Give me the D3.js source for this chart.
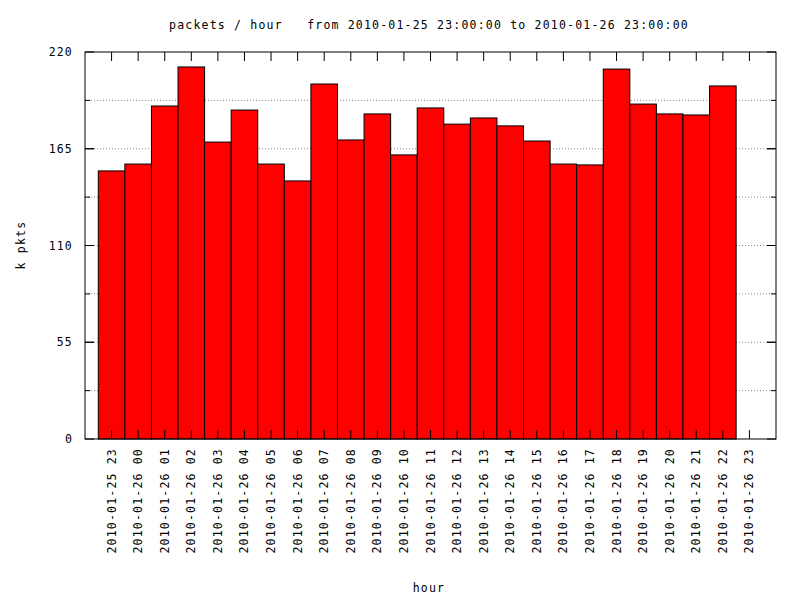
<!DOCTYPE html>
<html><head><meta charset="utf-8">
<script src="https://cdn.jsdelivr.net/npm/d3@7"></script>
<style>body{margin:0;background:#fff}text{font-family:"DejaVu Sans Mono",monospace;font-size:11.5px;letter-spacing:1.2px;fill:#000}</style>
</head><body><svg id="c" width="800" height="600"></svg>
<script>
var hours = ["2010-01-25 23","2010-01-26 00","2010-01-26 01","2010-01-26 02","2010-01-26 03","2010-01-26 04","2010-01-26 05","2010-01-26 06","2010-01-26 07","2010-01-26 08","2010-01-26 09","2010-01-26 10","2010-01-26 11","2010-01-26 12","2010-01-26 13","2010-01-26 14","2010-01-26 15","2010-01-26 16","2010-01-26 17","2010-01-26 18","2010-01-26 19","2010-01-26 20","2010-01-26 21","2010-01-26 22","2010-01-26 23"];
var kpkts = [152.4,156.3,189.3,211.5,168.8,187,156.3,146.7,201.8,170,184.8,161.5,188.2,179,182.5,178,169.4,156.3,155.8,210.3,190.4,184.8,184.2,200.7];
var yTicks = [0,55,110,165,220];
var yGrid = d3.range(27.5,220,27.5);

var svg = d3.select("#c");
var L=85,R=776,T=52,B=439;
var x = d3.scaleLinear().domain([-1,25]).range([L,R]);
var y = d3.scaleLinear().domain([0,220]).range([B,T]);
var bw = x(1)-x(0);

svg.selectAll(".g").data(yGrid).enter().append("line")
  .attr("x1",L).attr("x2",R).attr("y1",d=>y(d)).attr("y2",d=>y(d))
  .attr("stroke","#888").attr("stroke-dasharray","1,2");

svg.selectAll(".b").data(kpkts).enter().append("rect")
  .attr("x",(d,i)=>x(i)-bw/2).attr("width",bw)
  .attr("y",d=>y(d)).attr("height",d=>B-y(d))
  .attr("fill","#ff0000").attr("stroke","#000").attr("stroke-width",1);

svg.append("rect").attr("x",L).attr("y",T).attr("width",R-L).attr("height",B-T)
  .attr("fill","none").attr("stroke","#000");

// y ticks
yTicks.concat(yGrid).forEach(function(v){
  var len = yTicks.indexOf(v)>=0 ? 9 : 5;
  svg.append("line").attr("x1",L).attr("x2",L+len).attr("y1",y(v)).attr("y2",y(v)).attr("stroke","#000");
  svg.append("line").attr("x1",R).attr("x2",R-len).attr("y1",y(v)).attr("y2",y(v)).attr("stroke","#000");
});
svg.selectAll(".yl").data(yTicks).enter().append("text")
  .attr("x",L-12).attr("y",d=>y(d)+4).attr("text-anchor","end").text(d=>d);

// x ticks
hours.forEach(function(h,i){
  svg.append("line").attr("x1",x(i)).attr("x2",x(i)).attr("y1",B).attr("y2",B-9).attr("stroke","#000");
  svg.append("line").attr("x1",x(i)).attr("x2",x(i)).attr("y1",T).attr("y2",T+9).attr("stroke","#000");
  svg.append("text").attr("transform","translate("+(x(i)+4)+","+(B+9)+") rotate(-90)")
    .attr("text-anchor","end").text(h);
});

svg.append("text").attr("x",429).attr("y",29).attr("text-anchor","middle")
  .attr("xml:space","preserve").text("packets / hour   from 2010-01-25 23:00:00 to 2010-01-26 23:00:00");
svg.append("text").attr("x",429).attr("y",592).attr("text-anchor","middle").text("hour");
svg.append("text").attr("transform","translate(25,245) rotate(-90)").attr("text-anchor","middle").text("k pkts");
</script></body></html>
